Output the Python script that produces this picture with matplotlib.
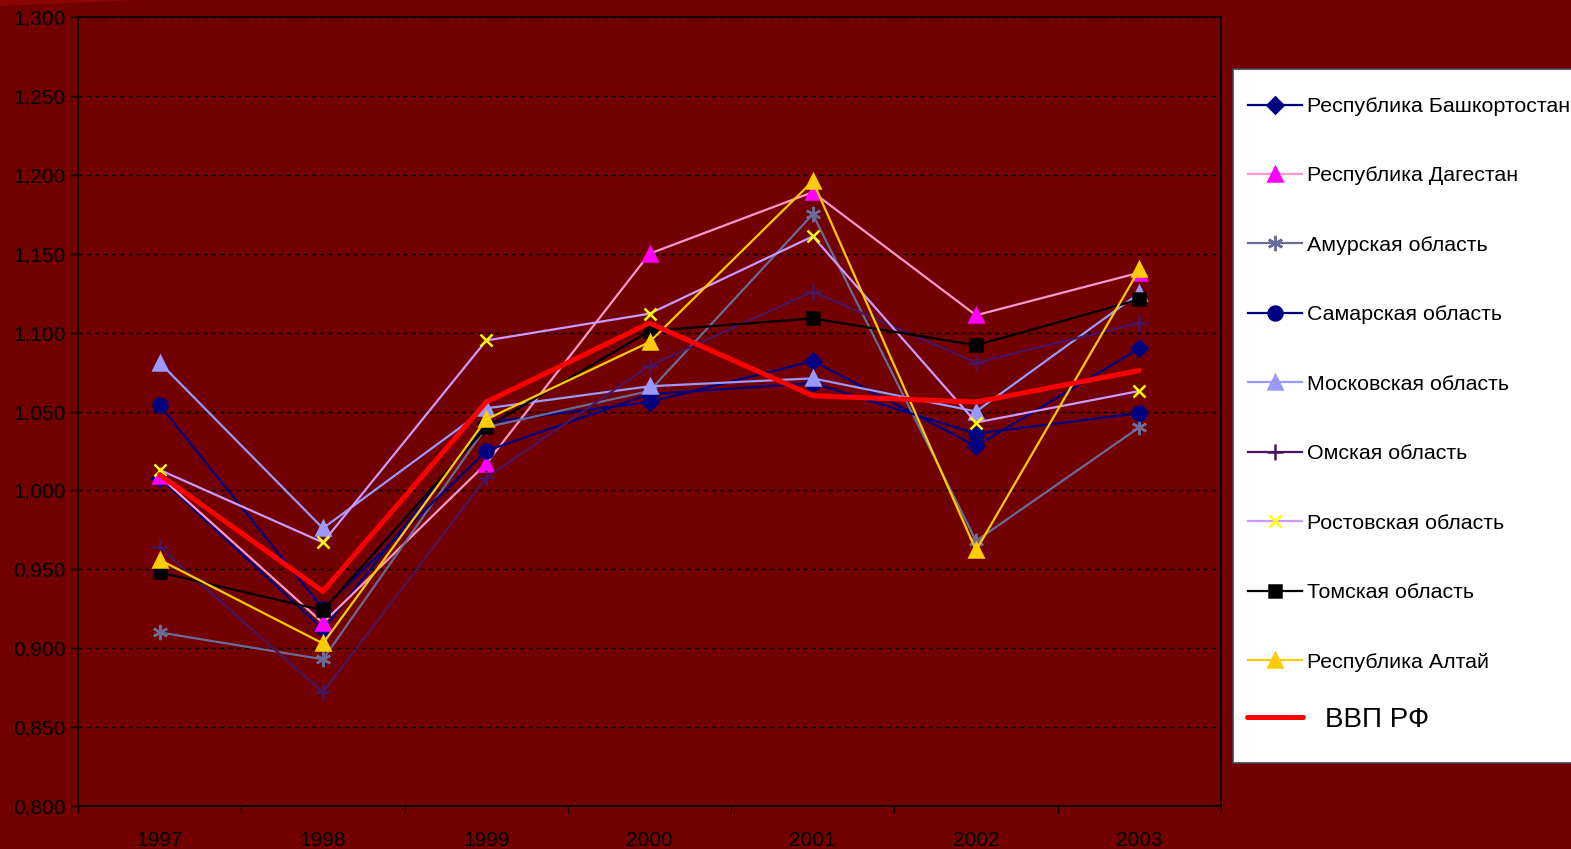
import matplotlib
matplotlib.use('Agg')
import matplotlib.pyplot as plt
from matplotlib.patches import Rectangle, Polygon
from matplotlib.ticker import FixedLocator, FuncFormatter

plt.rcParams['font.family'] = ['Liberation Sans', 'DejaVu Sans']

# ── data ───────────────────────────────────────────────────────
years         = ['1997', '1998', '1999', '2000', '2001', '2002', '2003']
bashkortostan = [1.008, 0.912, 1.043, 1.056, 1.082, 1.028, 1.090]
dagestan      = [1.009, 0.916, 1.017, 1.150, 1.189, 1.111, 1.138]
amur          = [0.910, 0.893, 1.040, 1.063, 1.175, 0.968, 1.040]
samara        = [1.054, 0.925, 1.025, 1.061, 1.068, 1.036, 1.049]
moscow        = [1.081, 0.976, 1.052, 1.066, 1.071, 1.050, 1.125]
omsk          = [0.964, 0.872, 1.008, 1.079, 1.126, 1.081, 1.106]
rostov        = [1.013, 0.967, 1.095, 1.112, 1.161, 1.043, 1.063]
tomsk         = [0.948, 0.924, 1.040, 1.101, 1.109, 1.092, 1.121]
altai         = [0.956, 0.903, 1.045, 1.094, 1.196, 0.962, 1.140]
vvp           = [1.010, 0.936, 1.056, 1.106, 1.060, 1.056, 1.076]

BG = '#720000'
W, H = 1571, 849

# label, values, line colour, marker, marker face, marker size
SERIES = [
    ('Республика Башкортостан', bashkortostan, '#000080', 'D', '#000080', 8),
    ('Республика Дагестан',     dagestan,      '#FF99CC', '^', '#FF00FF', 10),
    ('Амурская область',        amur,          '#6B6B99', (6, 2, 0), '#6B6B99', 11),
    ('Самарская область',       samara,        '#000080', 'o', '#000080', 10),
    ('Московская область',      moscow,        '#9999FF', '^', '#9999FF', 10),
    ('Омская область',          omsk,          '#4A1560', '+', '#4A1560', 12),
    ('Ростовская область',      rostov,        '#CC99FF', 'x', '#FFFF00', 9),
    ('Томская область',         tomsk,         '#000000', 's', '#000000', 9),
    ('Республика Алтай',        altai,         '#FFCC00', '^', '#FFCC00', 10),
]

fig = plt.figure(figsize=(W / 100, H / 100), dpi=100, facecolor=BG)
# slide decoration in the top-left corner
fig.patches.append(Polygon([(0, 1), (0, 1 - 6 / H), (140 / W, 1)], closed=True,
                           transform=fig.transFigure, facecolor='#8a0505', lw=0))

ax = fig.add_axes([78 / W, 1 - 806 / H, (1221 - 78) / W, (806 - 17) / H])
ax.set_facecolor(BG)

x = range(len(years))
lines = []
for label, vals, col, mk, mfc, ms in SERIES:
    ln, = ax.plot(x, vals, color=col, lw=1.6, marker=mk, ms=ms,
                  mfc=mfc, mec=mfc, mew=1.8, label=label)
    lines.append(ln)
ln_vvp, = ax.plot(x, vvp, color='#FF0000', lw=3.6, label='ВВП РФ', solid_capstyle='round')

ax.set_xlim(-0.5, len(years) - 0.5)
ax.set_ylim(0.8, 1.3)
ax.set_yticks([0.8 + 0.05 * i for i in range(11)])
ax.yaxis.set_major_formatter(FuncFormatter(lambda v, _: f'{v:.3f}'.replace('.', ',')))
ax.grid(axis='y', color='black', ls=(0, (3, 3)), lw=1.0)

ax.set_xticks(list(x))
ax.set_xticklabels(years)
ax.xaxis.set_minor_locator(FixedLocator([i - 0.5 for i in range(len(years) + 1)]))
ax.tick_params(axis='x', which='major', length=0, pad=18, labelsize=15, labelcolor='black')
ax.tick_params(axis='x', which='minor', length=5, width=1, color='black', direction='out')
ax.tick_params(axis='y', length=5, width=1, color='black', labelsize=15, labelcolor='black', pad=4)
for s in ax.spines.values():
    s.set_color('black')
    s.set_linewidth(1.2)

# legend: white box running off the right edge, entries placed inside it
fig.patches.append(Rectangle((1233 / W, 1 - 763 / H), 400 / W, (763 - 69) / H,
                             transform=fig.transFigure, facecolor='white',
                             edgecolor='#444444', lw=1.2, zorder=3))

leg1 = fig.legend(handles=lines, loc='upper left',
                  bbox_to_anchor=(1248 / W, 1 - 97 / H), borderaxespad=0,
                  fontsize=15.4, frameon=False, borderpad=0,
                  handlelength=2.52, handletextpad=0.23, labelspacing=2.36)
leg2 = fig.legend(handles=[ln_vvp], loc='center left',
                  bbox_to_anchor=(1247 / W, 1 - 720 / H), borderaxespad=0,
                  fontsize=20, frameon=False, borderpad=0,
                  handlelength=2.0, handletextpad=0.8)
leg1.set_zorder(4)
leg2.set_zorder(4)

fig.savefig('out.png', dpi=100, facecolor=BG)
